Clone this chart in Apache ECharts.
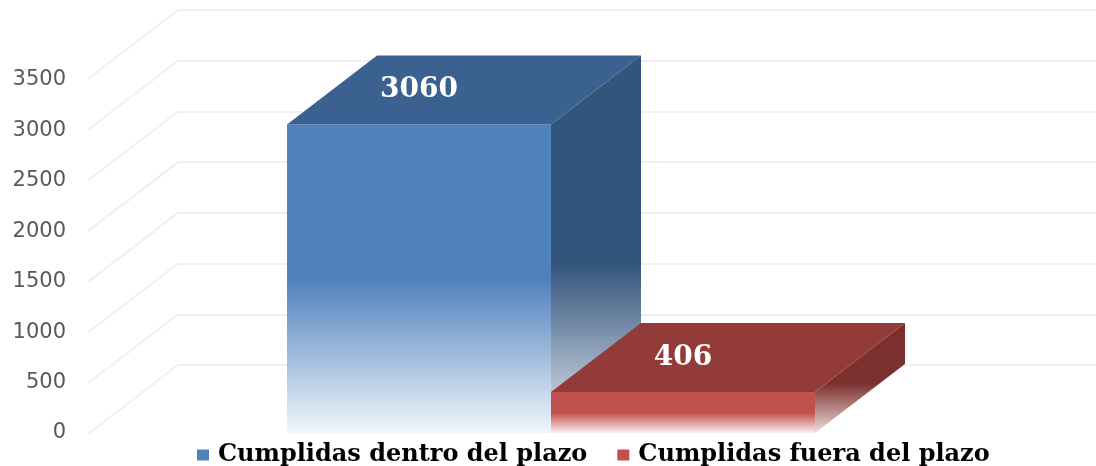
<!DOCTYPE html>
<html>
<head>
<meta charset="utf-8">
<script src="https://cdn.jsdelivr.net/npm/echarts@6/dist/echarts.min.js"></script>
<style>html,body{margin:0;padding:0;background:#fff}#main{width:1096px;height:466px}</style>
</head>
<body>
<div id="main"></div>
<script>
var categories = ['Cumplidas dentro del plazo', 'Cumplidas fuera del plazo'];
var values = [3060, 406];
var yTicks = [0, 500, 1000, 1500, 2000, 2500, 3000, 3500];

// depth of the fake 3d boxes
var DX = 90, DY = 69;
var palette = [
    { front: '#4f81bd', frontEnd: '#f2f6fb', top: '#3b6190', side: '#33547b', sideEnd: '#e3e9f1' },
    { front: '#c0504d', frontEnd: '#fbeeee', top: '#933b39', side: '#7b302e', sideEnd: '#f1dcdb' }
];

function fade(c, from, end) {
    return new echarts.graphic.LinearGradient(0, 0, 0, 1, [
        { offset: 0, color: c }, { offset: from, color: c }, { offset: 1, color: end }
    ]);
}

function renderBox(params, api) {
    var i = api.value(0), v = api.value(1);
    var top = api.coord([i, v]), base = api.coord([i, 0]);
    var w = api.size([1, 0])[0];
    var x0 = top[0] - w / 2, x1 = top[0] + w / 2, yt = top[1], yb = base[1];
    var p = palette[i];
    return {
        type: 'group',
        children: [
            { type: 'polygon', shape: { points: [[x1, yt], [x1 + DX, yt - DY], [x1 + DX, yb - DY], [x1, yb]] },
              style: { fill: fade(p.side, 0.55, p.sideEnd) } },
            { type: 'rect', shape: { x: x0, y: yt, width: w, height: yb - yt },
              style: { fill: fade(p.front, 0.5, p.frontEnd) } },
            { type: 'polygon', shape: { points: [[x0, yt], [x1, yt], [x1 + DX, yt - DY], [x0 + DX, yt - DY]] },
              style: { fill: p.top } },
            { type: 'text', style: { text: String(v), x: top[0], y: yt - DY / 2, fill: '#fff',
              font: 'bold 28px "DejaVu Serif"', align: 'center', verticalAlign: 'middle' } }
        ]
    };
}

function renderDiag(params, api) {
    var b = api.coord([0, api.value(1)]);
    return { type: 'line', shape: { x1: b[0] - DX, y1: b[1] + DY, x2: b[0], y2: b[1] },
             style: { stroke: '#efefef', lineWidth: 2 } };
}

var myChart = echarts.init(document.getElementById('main'));
var option = {
    animation: false,
    legend: {
        data: categories,
        left: 192, top: 438,
        icon: 'rect', itemWidth: 12, itemHeight: 11, itemGap: 30,
        textStyle: { fontFamily: 'DejaVu Serif', fontWeight: 'bold', fontSize: 24, color: '#000', padding: [0, 0, 0, 4] }
    },
    grid: [
        { left: 287, width: 528, top: 80, height: 353 },
        { left: 178, right: 0, top: 10, height: 355 }
    ],
    xAxis: [
        { type: 'category', data: categories, gridIndex: 0, show: false },
        { type: 'value', min: 0, max: 1, gridIndex: 1, show: false }
    ],
    yAxis: [
        { type: 'value', gridIndex: 0, min: 0, max: 3500, interval: 500,
          axisLine: { show: false }, axisTick: { show: false }, splitLine: { show: false },
          axisLabel: { margin: 221, color: '#595959', fontFamily: 'DejaVu Sans', fontSize: 21,
                       formatter: function (v) { return String(v); } } },
        { type: 'value', gridIndex: 1, min: 0, max: 3500, interval: 500,
          axisLine: { show: false }, axisTick: { show: false }, axisLabel: { show: false },
          splitLine: { lineStyle: { color: '#efefef', width: 2 } } }
    ],
    series: [
        { type: 'custom', name: 'grid', xAxisIndex: 1, yAxisIndex: 1, silent: true, z: 1,
          data: yTicks.map(function (v) { return [0, v]; }), renderItem: renderDiag }
    ].concat(categories.map(function (c, i) {
        return { type: 'custom', name: c, xAxisIndex: 0, yAxisIndex: 0, z: 2 + i,
                 itemStyle: { color: palette[i].front },
                 data: [[i, values[i]]], encode: { x: 0, y: 1 }, renderItem: renderBox };
    }))
};
myChart.setOption(option);
</script>
</body>
</html>
